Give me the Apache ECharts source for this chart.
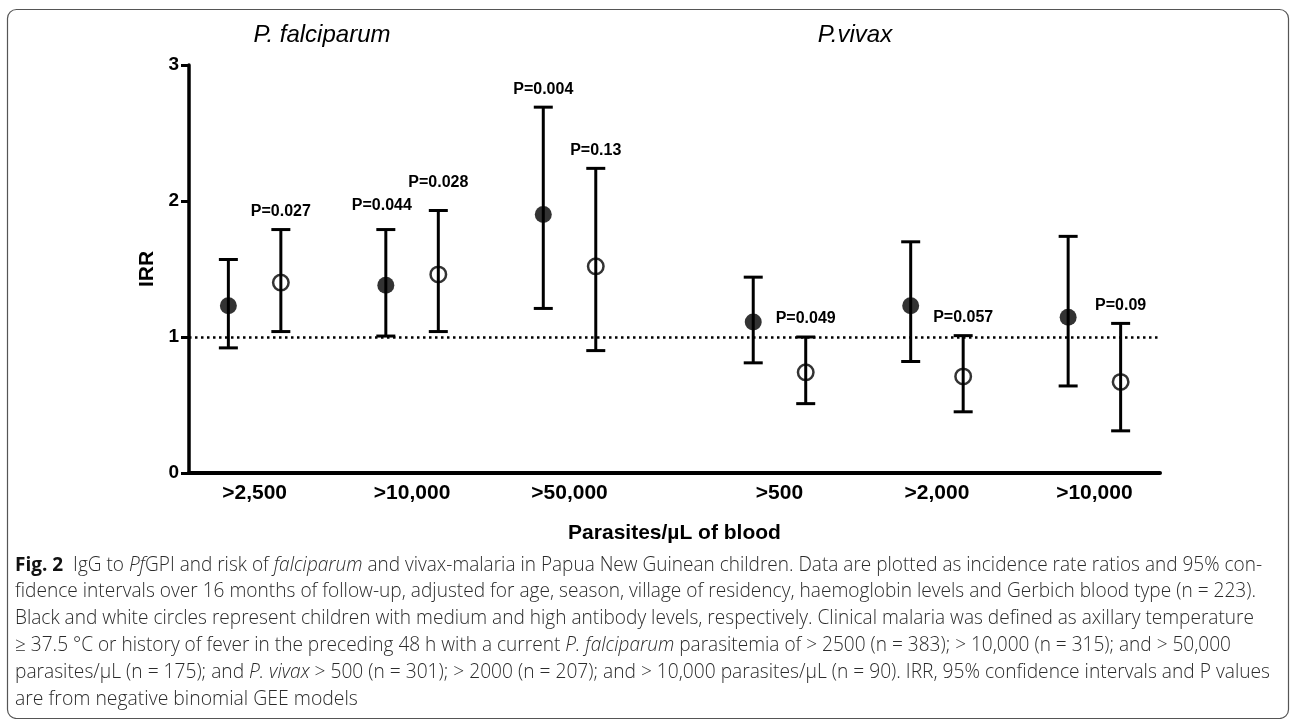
<!DOCTYPE html>
<html>
<head>
<meta charset="utf-8">
<script src="https://cdn.jsdelivr.net/npm/echarts@6/dist/echarts.min.js"></script>
<style>
html,body{margin:0;padding:0;background:#fff;}
#chart{width:1292px;height:719px;}
</style>
</head>
<body>
<div id="chart"></div>
<script>
// ---------------- data ----------------
const categories = ['>2,500', '>10,000', '>50,000', '>500', '>2,000', '>10,000'];
const speciesTitles = ['P. falciparum', 'P.vivax'];
// medium antibody level (black circles)
const medIRR  = [1.23, 1.38, 1.90, 1.11, 1.23, 1.145];
const medLow  = [0.92, 1.007, 1.21, 0.81, 0.82, 0.64];
const medHigh = [1.57, 1.79, 2.69, 1.44, 1.70, 1.74];
const medP    = ['', 'P=0.044', 'P=0.004', '', '', ''];
// high antibody level (white circles)
const highIRR  = [1.40, 1.46, 1.52, 0.74, 0.71, 0.67];
const highLow  = [1.04, 1.04, 0.90, 0.51, 0.45, 0.31];
const highHigh = [1.79, 1.93, 2.24, 1.00, 1.01, 1.10];
const highP    = ['P=0.027', 'P=0.028', 'P=0.13', 'P=0.049', 'P=0.057', 'P=0.09'];
const referenceIRR = 1;
const yMin = 0, yMax = 3, yStep = 1;
const yAxisName = 'IRR';
const xAxisName = 'Parasites/\u00b5L of blood';

// caption lines: [style, text] segments
const captionLines = [
  [['b', 'Fig. 2'], ['n', '  IgG to '], ['i', 'Pf'], ['n', 'GPI and risk of '], ['i', 'falciparum'], ['n', ' and vivax-malaria in Papua New Guinean children. Data are plotted as incidence rate ratios and 95% con-']],
  [['n', 'fidence intervals over 16 months of follow-up, adjusted for age, season, village of residency, haemoglobin levels and Gerbich blood type (n = 223).']],
  [['n', 'Black and white circles represent children with medium and high antibody levels, respectively. Clinical malaria was defined as axillary temperature']],
  [['n', '\u2265 37.5 \u00b0C or history of fever in the preceding 48 h with a current '], ['i', 'P. falciparum'], ['n', ' parasitemia of > 2500 (n = 383); > 10,000 (n = 315); and > 50,000']],
  [['n', 'parasites/\u00b5L (n = 175); and '], ['i', 'P. vivax'], ['n', ' > 500 (n = 301); > 2000 (n = 207); and > 10,000 parasites/\u00b5L (n = 90). IRR, 95% confidence intervals and P values']],
  [['n', 'are from negative binomial GEE models']]
];

// ---------------- layout helpers ----------------
// x position: 3 slots per threshold, extra gap between species
function xPos(i, high) { return 1 + 3 * i + (i >= 3 ? 1 : 0) + (high ? 1 : 0); }
const groupCenters = categories.map((c, i) => xPos(i, false) + 0.5);

const AXIS_FONT = "'Liberation Sans', Arial, Helvetica, sans-serif";
const CAP_FONT = "'Open Sans', 'Noto Sans', sans-serif";

const errData = [];
categories.forEach((c, i) => {
  errData.push([xPos(i, false), medLow[i], medHigh[i], medP[i], i === 1 ? 24 : 18, i === 1 ? -4 : 0]);
  errData.push([xPos(i, true), highLow[i], highHigh[i], highP[i], i === 1 ? 28 : 18, 0]);
});
const medPts = categories.map((c, i) => [xPos(i, false), medIRR[i]]);
const highPts = categories.map((c, i) => [xPos(i, true), highIRR[i]]);

// ---------------- caption measuring ----------------
const mctx = document.createElement('canvas').getContext('2d');
function segFont(st, fs) {
  if (st === 'b') return 'bold ' + fs + 'px ' + CAP_FONT;
  if (st === 'i') return 'italic 300 ' + fs + 'px ' + CAP_FONT;
  return '300 ' + fs + 'px ' + CAP_FONT;
}
function measureLine(segs, fs) {
  let w = 0;
  segs.forEach(s => { mctx.font = segFont(s[0], fs); w += mctx.measureText(s[1]).width; });
  return w;
}
const capLeft = 15;
const lastW = measureLine(captionLines[5], 100);
const capFs = Math.round(100 * 343 / lastW * 10) / 10;
const lineEnds = [1262, 1256, 1254, 1231, 1270, null];
const capCenters = [565, 591.8, 618.6, 645.4, 672.2, 699];
const richStyles = {
  b: { fontFamily: CAP_FONT, fontWeight: 'bold', fontSize: capFs, fill: '#111' },
  i: { fontFamily: CAP_FONT, fontWeight: 300, fontStyle: 'italic', fontSize: capFs, fill: '#2b2b2b' },
  n: { fontFamily: CAP_FONT, fontWeight: 300, fontSize: capFs, fill: '#2b2b2b' }
};
const captionGraphics = captionLines.map((segs, k) => {
  const w = measureLine(segs, capFs);
  const sx = lineEnds[k] ? (lineEnds[k] - capLeft) / w : 1;
  return {
    type: 'text', x: capLeft, y: capCenters[k], scaleX: sx, silent: true,
    style: {
      text: segs.map(s => '{' + s[0] + '|' + s[1] + '}').join(''),
      rich: richStyles, verticalAlign: 'middle', align: 'left',
      fontFamily: CAP_FONT, fontSize: capFs, fill: '#2b2b2b'
    }
  };
});

// ---------------- chart ----------------
const chart = echarts.init(document.getElementById('chart'), null, { renderer: 'canvas' });
const option = {
  animation: false,
  backgroundColor: '#fff',
  grid: { left: 189, right: 132, top: 65, bottom: 246, containLabel: false },
  xAxis: {
    type: 'value', min: 0.25, max: 18.75,
    name: xAxisName, nameLocation: 'middle', nameGap: 50,
    nameTextStyle: { fontFamily: AXIS_FONT, fontWeight: 'bold', fontSize: 21, color: '#000' },
    axisLine: { show: true, onZero: false, lineStyle: { color: '#000', width: 4 } },
    axisTick: { show: false },
    splitLine: { show: false },
    axisLabel: {
      customValues: groupCenters,
      formatter: (v) => { const i = groupCenters.indexOf(v); return i >= 0 ? categories[i] : ''; },
      margin: 10, fontFamily: AXIS_FONT, fontWeight: 'bold', fontSize: 21, color: '#000'
    }
  },
  yAxis: {
    type: 'value', min: yMin, max: yMax, interval: yStep,
    name: yAxisName, nameLocation: 'middle', nameGap: 30, nameRotate: 90,
    nameTextStyle: { fontFamily: AXIS_FONT, fontWeight: 'bold', fontSize: 21, color: '#000' },
    axisLine: { show: true, lineStyle: { color: '#000', width: 3.5 } },
    axisTick: { show: true, inside: false, length: 8, lineStyle: { color: '#000', width: 3 } },
    splitLine: { show: false },
    axisLabel: { margin: 10, fontFamily: AXIS_FONT, fontWeight: 'bold', fontSize: 19, color: '#000' }
  },
  graphic: [
    { type: 'rect', shape: { x: 7.5, y: 9.5, width: 1281, height: 709, r: 9 }, style: { fill: 'none', stroke: '#555', lineWidth: 1.2 }, silent: true },
    { type: 'text', x: 322, y: 35, style: { text: speciesTitles[0], align: 'center', verticalAlign: 'middle', fontFamily: "'Liberation Sans Narrow', 'Liberation Sans', Arial", fontStyle: 'italic', fontSize: 24, fill: '#000' } },
    { type: 'text', x: 855, y: 35, style: { text: speciesTitles[1], align: 'center', verticalAlign: 'middle', fontFamily: "'Liberation Sans Narrow', 'Liberation Sans', Arial", fontStyle: 'italic', fontSize: 24, fill: '#000' } }
  ].concat(captionGraphics),
  series: [
    {
      type: 'custom', name: 'CI', data: errData, z: 2,
      renderItem: function (params, api) {
        const x = api.value(0), lo = api.value(1), hi = api.value(2);
        const pLo = api.coord([x, lo]), pHi = api.coord([x, hi]);
        const cw = 9.5;
        const ls = { stroke: '#000', lineWidth: 3 };
        const children = [
          { type: 'line', shape: { x1: pLo[0], y1: pLo[1], x2: pHi[0], y2: pHi[1] }, style: ls },
          { type: 'line', shape: { x1: pHi[0] - cw, y1: pHi[1], x2: pHi[0] + cw, y2: pHi[1] }, style: ls },
          { type: 'line', shape: { x1: pLo[0] - cw, y1: pLo[1], x2: pLo[0] + cw, y2: pLo[1] }, style: ls }
        ];
        const lbl = errData[params.dataIndex][3];
        if (lbl) {
          children.push({
            type: 'text', x: pHi[0] + errData[params.dataIndex][5], y: pHi[1] - errData[params.dataIndex][4],
            style: { text: lbl, align: 'center', verticalAlign: 'middle', fontFamily: AXIS_FONT, fontWeight: 'bold', fontSize: 16, fill: '#000' }
          });
        }
        return { type: 'group', children: children };
      },
      markLine: {
        silent: true, symbol: 'none', label: { show: false },
        lineStyle: { color: '#000', width: 2.5, type: [2.5, 3.5] },
        data: [{ yAxis: referenceIRR }]
      }
    },
    {
      type: 'scatter', name: 'Medium', data: medPts, symbol: 'circle', symbolSize: 17, z: 3,
      itemStyle: { color: '#000' }
    },
    {
      type: 'scatter', name: 'High', data: highPts, symbol: 'circle', symbolSize: 15.5, z: 3,
      itemStyle: { color: 'rgba(0,0,0,0)', borderColor: '#000', borderWidth: 2.5 }
    }
  ]
};
chart.setOption(option);
</script>
</body>
</html>
